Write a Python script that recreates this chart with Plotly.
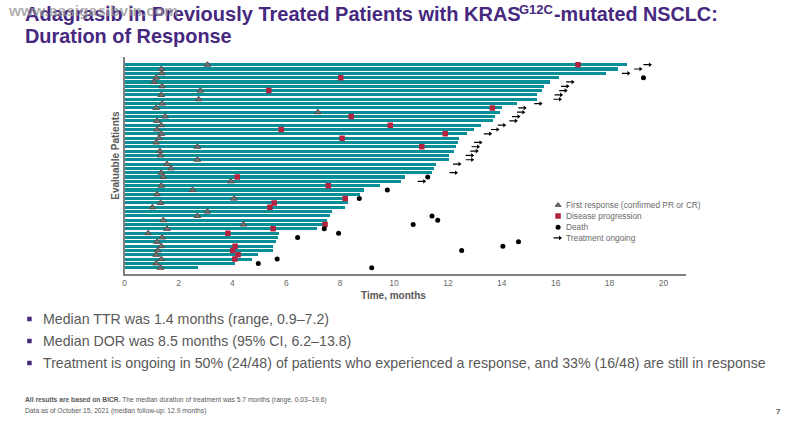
import plotly.graph_objects as go

patients = list(range(48))
durations = [18.65,18.31,17.86,16.12,15.78,15.56,15.47,15.31,15.31,14.57,13.98,13.94,13.72,13.65,13.23,12.94,
             12.69,12.40,12.35,12.28,12.23,12.02,12.02,11.56,11.47,11.39,10.40,10.23,9.47,8.88,8.73,8.28,
             8.28,8.18,7.68,7.61,7.51,7.51,7.14,5.72,5.68,5.61,5.51,5.51,4.93,4.73,4.09,2.72]
first_response = [3.07,1.36,1.38,1.17,1.10,1.39,2.81,1.36,2.75,1.39,1.17,7.17,1.50,1.20,1.36,1.20,
                  1.36,1.28,1.17,2.70,1.31,1.33,2.70,1.57,1.72,1.36,1.43,3.94,1.36,2.52,1.20,4.06,
                  1.33,1.03,3.07,2.70,1.43,4.41,1.57,0.87,1.39,1.20,1.36,1.23,1.17,1.36,1.17,1.33]
pd_rows = [0,3,6,10,12,14,15,16,17,19,26,28,31,32,33,37,38,39,42,43,44,45]
pd_times = [16.83,8.02,5.35,13.65,8.41,9.86,5.81,11.90,8.07,11.03,4.18,7.56,8.19,5.55,5.39,7.44,5.51,3.83,4.10,4.01,4.21,4.09]
death_rows = [3,26,29,31,35,36,37,38,39,40,41,42,43,45,46,47]
death_times = [19.26,11.25,9.75,8.71,11.41,11.62,10.71,7.41,7.94,6.42,14.62,14.04,12.51,5.66,4.96,9.17]
ongoing_rows = [0,1,2,4,5,6,7,8,9,10,11,12,13,14,15,16,18,19,20,21,22,23,25,27]
ongoing_times = [19.26,18.91,18.46,16.39,16.20,16.13,15.96,15.92,15.20,14.61,14.56,14.38,14.28,13.85,13.60,13.33,
                 12.97,12.88,12.83,12.66,12.66,12.19,12.06,10.88]
x_ticks = list(range(0, 21, 2))

legend_labels = ["First response (confirmed PR or CR)", "Disease progression", "Death", "Treatment ongoing"]
title_parts = ["Adagrasib in Previously Treated Patients with KRAS", "G12C", "-mutated NSCLC:"]
title_line2 = "Duration of Response"
bullets = ["Median TTR was 1.4 months (range, 0.9–7.2)",
           "Median DOR was 8.5 months (95% CI, 6.2–13.8)",
           "Treatment is ongoing in 50% (24/48) of patients who experienced a response, and 33% (16/48) are still in response"]
footnotes = ["<b>All results are based on BICR.</b> The median duration of treatment was 5.7 months (range, 0.03–19.6)",
             "Data as of October 15, 2021 (median follow-up: 12.9 months)"]
watermark = "www.aasigasibvin.com"

W, H = 793, 427
L, R, T, B = 123, 685.5, 57, 274
XMAX = 20.83
TEAL, TRI, TRI_EDGE, RED, PURPLE, TXT = "#0A8F98", "#6E6E6E", "#4F4F4F", "#B5223F", "#46287F", "#595959"
FONT = "Liberation Sans"
ARROW_LEN = 0.24
LG_X = 16.09
LG_ROWS = [32.5, 35.0, 37.6, 40.1]

fig = go.Figure()
fig.add_trace(go.Bar(x=durations, y=patients, orientation="h", width=0.72,
                     marker=dict(color=TEAL, line=dict(width=0)), showlegend=False))

TRI_M = dict(symbol="triangle-up", size=6, color=TRI, line=dict(color=TRI_EDGE, width=1))
PD_M = dict(symbol="square", size=5.5, color=RED)
DEATH_M = dict(symbol="circle", size=5, color="black")
ARROW_M = dict(symbol="triangle-right", size=4, color="black")

def points(x, y, marker):
    fig.add_trace(go.Scatter(x=x, y=y, mode="markers", marker=marker, showlegend=False))

def arrows(starts, rows):
    ax, ay = [], []
    for r, t in zip(rows, starts):
        ax += [t, t + ARROW_LEN, None]
        ay += [r, r, None]
    fig.add_trace(go.Scatter(x=ax, y=ay, mode="lines", showlegend=False, line=dict(color="black", width=1.2)))
    points([t + ARROW_LEN for t in starts], rows, ARROW_M)

points(first_response, patients, TRI_M)
points(pd_times, pd_rows, PD_M)
points(death_times, death_rows, DEATH_M)
arrows(ongoing_times, ongoing_rows)

points([LG_X], [LG_ROWS[0]], dict(TRI_M, size=5))
points([LG_X], [LG_ROWS[1]], PD_M)
points([LG_X], [LG_ROWS[2]], DEATH_M)
arrows([LG_X - 0.17], [LG_ROWS[3]])

ann = []
def text(x, y, s, size, color=TXT, anchor="left", **kw):
    ann.append(dict(x=x / W, y=1 - y / H, xref="paper", yref="paper", text=s, showarrow=False, xanchor=anchor,
                    yanchor="middle", font=dict(family=FONT, size=size, color=color), **kw))

shapes = []
def sq(x, y, s, color):
    shapes.append(dict(type="rect", xref="paper", yref="paper", x0=(x - s / 2) / W, x1=(x + s / 2) / W,
                       y0=1 - (y + s / 2) / H, y1=1 - (y - s / 2) / H, fillcolor=color, line=dict(width=0), layer="above"))

TEXT_DX = -4
text(25 + TEXT_DX, 13.5, "<b>" + title_parts[0] + "</b>", 20, PURPLE)
text(520 + TEXT_DX, 9.5, "<b>" + title_parts[1] + "</b>", 13, PURPLE)
text(555 + TEXT_DX, 13.5, "<b>" + title_parts[2] + "</b>", 19.8, PURPLE)
text(25 + TEXT_DX, 36, "<b>" + title_line2 + "</b>", 19.9, PURPLE)
text(8 + TEXT_DX, 10.5, "<b>" + watermark + "</b>", 15.5, "rgba(150,150,150,0.75)")
for y, b in zip([319, 341, 363], bullets):
    sq(27.5, y, 4.5, PURPLE)
    text(43 + TEXT_DX, y, b, 14.2)
for y, f in zip([400, 410.5], footnotes):
    text(25 + TEXT_DX, y, f, 6.7)
text(778, 411, "<b>7</b>", 8, TXT, "center")
text(114, 155, "<b>Evaluable Patients</b>", 10, TXT, "center", textangle=-90)
text(392, 295, "<b>Time, months</b>", 10, TXT, "center")
for y, s in zip([205, 216, 227.3, 238.3], legend_labels):
    text(563.5, y, s, 8.3, "#6A6A6A")

fig.update_layout(
    width=W, height=H, margin=dict(l=0, r=0, t=0, b=0), autosize=False,
    paper_bgcolor="white", plot_bgcolor="rgba(0,0,0,0)", bargap=0, showlegend=False,
    font=dict(family=FONT, color=TXT),
    xaxis=dict(domain=[L / W, R / W], range=[0, XMAX], tickvals=x_ticks, ticks="", showgrid=False, zeroline=False,
               showline=True, linecolor="#808080", linewidth=1.5, tickfont=dict(size=8.5, color="#6A6A6A"), anchor="y"),
    yaxis=dict(domain=[1 - B / H, 1 - T / H], range=[48.45, -1.78], showticklabels=False, ticks="", showgrid=False,
               zeroline=False, showline=True, linecolor="#808080", linewidth=1.5, anchor="x"),
    annotations=ann, shapes=shapes,
)
fig.write_html("out.html", config={"displayModeBar": False}, post_script="document.body.style.margin='0';")
